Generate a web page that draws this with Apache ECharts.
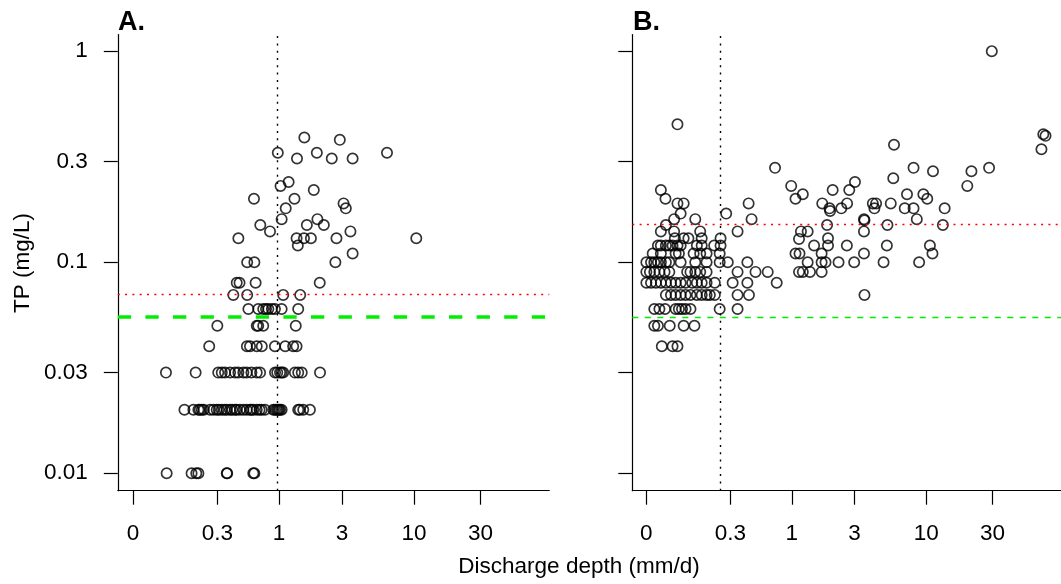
<!DOCTYPE html>
<html>
<head>
<meta charset="utf-8">
<script src="https://cdn.jsdelivr.net/npm/echarts@6/dist/echarts.min.js"></script>
<style>
html,body{margin:0;padding:0;background:#fff;}
#chart{width:1061px;height:584px;}
</style>
</head>
<body>
<div id="chart"></div>
<script>
// ---- data (discharge depth mm/d, TP mg/L) ----
var panelA = [
  [1.57,0.39],[2.89,0.38],
  [0.98,0.33],[1.95,0.33],[6.39,0.33],
  [1.38,0.31],[2.52,0.31],[3.59,0.31],
  [1.19,0.24],[1.03,0.23],[1.85,0.22],
  [0.63,0.2],[1.32,0.2],[3.08,0.19],
  [3.2,0.18],[1.13,0.18],
  [1.05,0.16],[1.97,0.16],
  [0.71,0.15],[1.64,0.15],[2.2,0.15],
  [0.85,0.14],[3.46,0.14],
  [0.465,0.13],[1.37,0.13],[1.56,0.13],[1.76,0.13],[2.73,0.13],[10.4,0.13],
  [1.4,0.12],[3.59,0.11],
  [0.553,0.1],[0.635,0.1],[2.68,0.1],
  [0.45,0.08],[0.476,0.08],[0.65,0.08],[2.05,0.08],
  [0.42,0.07],[0.553,0.07],[1.08,0.07],[1.46,0.07],
  [0.566,0.06],[0.683,0.06],[0.75,0.06],[0.79,0.06],[0.824,0.06],[0.88,0.06],[0.93,0.06],[1.05,0.06],[1.41,0.06],
  [0.30,0.05],[0.664,0.05],[0.683,0.05],[0.75,0.05],[1.35,0.05],
  [0.25,0.04],[0.55,0.04],[0.584,0.04],[0.664,0.04],[0.73,0.04],[0.93,0.04],[1.12,0.04],[1.29,0.04],[1.37,0.04],
  [0.072,0.03],[0.18,0.03],[0.306,0.03],[0.33,0.03],[0.354,0.03],[0.393,0.03],[0.435,0.03],[0.465,0.03],[0.513,0.03],[0.548,0.03],[0.6,0.03],[0.664,0.03],[0.707,0.03],[0.932,0.03],[0.97,0.03],[1.02,0.03],[1.05,0.03],[1.08,0.03],[1.33,0.03],[1.41,0.03],[1.5,0.03],[2.06,0.03],
  [0.133,0.02],[0.17,0.02],[0.193,0.02],[0.2,0.02],[0.21,0.02],[0.22,0.02],[0.255,0.02],[0.275,0.02],[0.296,0.02],[0.31,0.02],[0.33,0.02],[0.35,0.02],[0.367,0.02],[0.393,0.02],[0.41,0.02],[0.435,0.02],[0.45,0.02],[0.48,0.02],[0.513,0.02],[0.548,0.02],[0.584,0.02],[0.6,0.02],[0.622,0.02],[0.664,0.02],[0.7,0.02],[0.729,0.02],[0.775,0.02],[0.903,0.02],[0.932,0.02],[0.96,0.02],[0.98,0.02],[1.0,0.02],[1.02,0.02],[1.05,0.02],[1.41,0.02],[1.45,0.02],[1.54,0.02],[1.73,0.02],
  [0.074,0.01],[0.162,0.01],[0.183,0.01],[0.193,0.01],[0.367,0.01],[0.37,0.01],[0.622,0.01],[0.635,0.01]
];
var panelB = [
  [29.7,1.0],[0.067,0.45],[69.6,0.404],[72.2,0.397],[5.84,0.36],[67.5,0.343],
  [0.735,0.28],[28.4,0.28],[8.1,0.28],[11.2,0.27],[21.2,0.27],[5.77,0.25],[3.02,0.24],
  [0.99,0.23],[19.8,0.23],[0.027,0.22],[2.06,0.22],[2.74,0.22],
  [1.22,0.21],[7.26,0.21],[9.54,0.21],[0.037,0.2],[1.07,0.2],[10.18,0.2],
  [0.067,0.19],[0.085,0.19],[0.44,0.19],[1.72,0.19],[2.64,0.19],[4.09,0.19],[4.32,0.19],[5.53,0.19],
  [1.95,0.18],[2.39,0.18],[4.2,0.18],[6.99,0.18],[8.1,0.18],[13.6,0.18],[1.97,0.175],
  [0.076,0.17],[0.273,0.17],
  [0.058,0.16],[0.124,0.16],[0.467,0.16],[8.55,0.16],[3.52,0.16],[3.55,0.158],
  [0.038,0.15],[1.87,0.15],[5.23,0.15],[13.2,0.15],
  [0.027,0.14],[0.058,0.14],[0.143,0.14],[0.35,0.14],[1.18,0.14],[1.33,0.14],[3.52,0.14],
  [0.06,0.13],[0.085,0.13],[0.10,0.13],[0.149,0.13],[0.24,0.13],[1.14,0.129],[1.9,0.13],
  [0.021,0.12],[0.027,0.12],[0.038,0.12],[0.046,0.12],[0.054,0.12],[0.067,0.12],[0.076,0.12],[0.13,0.12],[0.149,0.12],[0.206,0.12],[0.24,0.12],[1.49,0.12],[1.9,0.12],[2.63,0.12],[5.18,0.12],[10.64,0.12],
  [0.011,0.11],[0.027,0.11],[0.062,0.11],[0.071,0.11],[0.118,0.11],[0.143,0.11],[0.17,0.11],[0.235,0.11],[1.07,0.11],[1.15,0.11],[1.7,0.11],[3.52,0.11],[11.1,0.11],
  [0.0,0.1],[0.008,0.1],[0.014,0.1],[0.021,0.1],[0.027,0.1],[0.038,0.1],[0.046,0.1],[0.076,0.1],[0.124,0.1],[0.17,0.1],[0.235,0.1],[0.283,0.1],[0.429,0.1],[1.33,0.1],[1.7,0.1],[1.82,0.1],[2.28,0.1],[2.98,0.1],[4.9,0.1],[8.89,0.1],
  [0.0,0.09],[0.006,0.09],[0.014,0.09],[0.024,0.09],[0.035,0.09],[0.046,0.09],[0.096,0.09],[0.107,0.09],[0.124,0.09],[0.143,0.09],[0.17,0.09],[0.35,0.09],[0.505,0.09],[0.64,0.09],[1.14,0.09],[1.22,0.09],[1.385,0.09],[1.7,0.09],
  [0.0,0.08],[0.008,0.08],[0.017,0.08],[0.027,0.08],[0.038,0.08],[0.05,0.08],[0.062,0.08],[0.076,0.08],[0.091,0.08],[0.113,0.08],[0.13,0.08],[0.149,0.08],[0.17,0.08],[0.209,0.08],[0.315,0.08],[0.429,0.08],[0.758,0.08],
  [0.038,0.07],[0.05,0.07],[0.062,0.07],[0.076,0.07],[0.091,0.07],[0.107,0.07],[0.13,0.07],[0.149,0.07],[0.17,0.07],[0.185,0.07],[0.209,0.07],[0.35,0.07],[0.443,0.07],[3.55,0.07],
  [0.014,0.06],[0.024,0.06],[0.036,0.06],[0.062,0.06],[0.071,0.06],[0.08,0.06],[0.091,0.06],[0.107,0.06],[0.235,0.06],[0.35,0.06],
  [0.014,0.05],[0.021,0.05],[0.047,0.05],[0.085,0.05],[0.121,0.05],
  [0.029,0.04],[0.054,0.04],[0.067,0.04]
];
var xTickValues = [0, 0.3, 1, 3, 10, 30];
var xTickLabels = ['0', '0.3', '1', '3', '10', '30'];
var yTickValues = [0.01, 0.03, 0.1, 0.3, 1];
var yTickLabels = ['0.01', '0.03', '0.1', '0.3', '1'];
// reference lines
var vLineA = 0.97, vLineB = 0.237;
var redLineA = 0.07, redLineB = 0.15;
var greenLine = 0.055;

// ---- scales ----
var OFFSET = 0.1;
function tx(v){ return Math.log10(v + OFFSET); }
function ty(v){ return Math.log10(v); }
var xT = xTickValues.map(tx), yT = yTickValues.map(ty);
function xFmt(val){ for (var i=0;i<xT.length;i++){ if (Math.abs(xT[i]-val)<1e-6) return xTickLabels[i]; } return ''; }
function yFmt(val){ for (var i=0;i<yT.length;i++){ if (Math.abs(yT[i]-val)<1e-6) return yTickLabels[i]; } return ''; }

var FONT = '"Liberation Sans", Arial, Helvetica, sans-serif';
var FS = 22.5;

function xAxisCfg(gi, min, max){
  return {
    type:'value', gridIndex:gi, min:min, max:max,
    axisLine:{show:true, onZero:false, lineStyle:{color:'#000', width:1.2}},
    axisTick:{show:true, length:14, lineStyle:{color:'#000', width:1.2}, customValues:xT},
    axisLabel:{show:true, customValues:xT, formatter:xFmt, margin:32, color:'#000', fontSize:FS, fontFamily:FONT, lineHeight:FS},
    splitLine:{show:false}
  };
}
function yAxisCfg(gi, showLabels){
  return {
    type:'value', gridIndex:gi, min:-2.0825, max:0.079,
    axisLine:{show:true, onZero:false, lineStyle:{color:'#000', width:1.2}},
    axisTick:{show:true, length:14, lineStyle:{color:'#000', width:1.2}, customValues:yT},
    axisLabel:{show:showLabels, customValues:yT, formatter:yFmt, margin:30, color:'#000', fontSize:FS, fontFamily:FONT},
    splitLine:{show:false}
  };
}
var dotted = [2, 5.3];
function scatterSeries(idx, data, hLines, vLine){
  return {
    type:'scatter', xAxisIndex:idx, yAxisIndex:idx,
    data: data.map(function(p){ return [tx(p[0]), ty(p[1])]; }),
    symbol:'circle', symbolSize:10.3,
    itemStyle:{color:'rgba(0,0,0,0)', borderColor:'#000', borderWidth:1.7},
    emphasis:{disabled:true}, silent:true,
    markLine:{
      silent:true, symbol:['none','none'], label:{show:false}, animation:false,
      data: hLines.concat([{xAxis:tx(vLine), lineStyle:{color:'#000', width:1.4, type:dotted, cap:'butt'}}])
    }
  };
}

var chart = echarts.init(document.getElementById('chart'), null, {renderer:'canvas'});
chart.setOption({
  animation:false,
  backgroundColor:'#fff',
  grid:[
    {left:117.8, top:34.5, width:431.5, height:456.2},
    {left:632.3, top:34.5, width:438.5, height:456.2}
  ],
  xAxis:[ xAxisCfg(0, -1.108, 1.970), xAxisCfg(1, -1.1008, 1.970) ],
  yAxis:[ yAxisCfg(0, true), yAxisCfg(1, false) ],
  series:[
    scatterSeries(0, panelA, [
      {yAxis:ty(redLineA), lineStyle:{color:'#ff0000', width:1.4, type:dotted, cap:'butt'}},
      {yAxis:ty(greenLine), lineStyle:{color:'#00ee00', width:3.6, type:[13.3,14.3], cap:'butt'}}
    ], vLineA),
    scatterSeries(1, panelB, [
      {yAxis:ty(redLineB), lineStyle:{color:'#ff0000', width:1.4, type:dotted, cap:'butt'}},
      {yAxis:ty(greenLine), lineStyle:{color:'#00ee00', width:1.4, type:[6,6.5], cap:'butt'}}
    ], vLineB)
  ],
  graphic:[
    {type:'text', left:118, top:9, style:{text:'A.', font:'bold 27px ' + FONT, fill:'#000'}},
    {type:'text', left:633, top:9, style:{text:'B.', font:'bold 27px ' + FONT, fill:'#000'}},
    {type:'text', x:579, y:567, style:{text:'Discharge depth (mm/d)', font:FS + 'px ' + FONT, fill:'#000', align:'center', verticalAlign:'middle'}},
    {type:'text', x:22.4, y:263, rotation:Math.PI/2, style:{text:'TP (mg/L)', font:FS + 'px ' + FONT, fill:'#000', align:'center', verticalAlign:'middle'}}
  ]
});
</script>
</body>
</html>
